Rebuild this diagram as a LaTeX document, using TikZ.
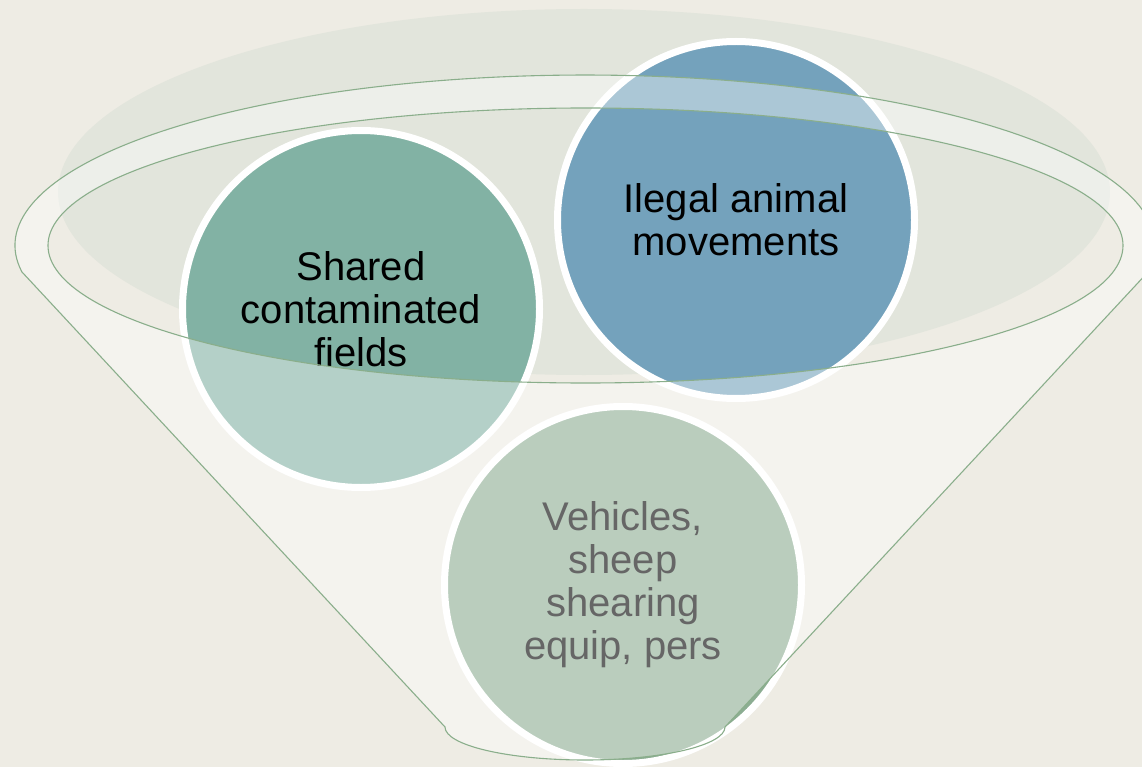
\documentclass[tikz,border=0pt]{standalone}
\usepackage{fontspec}
\setmainfont{Liberation Sans}
\usepackage{tikz}
\usetikzlibrary{positioning}
\definecolor{bgcol}{HTML}{EEECE4}
\definecolor{mouthcol}{HTML}{E2E5DC}
\definecolor{rimline}{HTML}{8AAE8B}
\definecolor{tealcol}{HTML}{82B2A4}
\definecolor{bluecol}{HTML}{74A2BC}
\definecolor{sagecol}{HTML}{8CAD92}
\tikzset{
  bubble/.style={circle, draw=white, line width=7pt, minimum size=357pt,
    inner sep=0pt, align=center, text=black,
    font=\fontsize{40}{43}\selectfont},
  funnel/.style={draw=rimline, line width=1.1pt, fill=white,
    fill opacity=0.4, even odd rule}
}

\begin{document}
\begin{tikzpicture}[x=1pt,y=-1pt]

% Background
\fill[bgcol] (0,0) rectangle (1142,767);
\useasboundingbox (0,0) rectangle (1142,767);
\clip (0,0) rectangle (1142,767);

% Back of the funnel mouth
\fill[mouthcol] (584,192) ellipse[x radius=526, y radius=183];

% Circles
\node[bubble, fill=tealcol] (fields) at (361,309) {Shared\\contaminated\\fields};
\node[bubble, fill=bluecol] (moves) at (736,220) {Ilegal animal\\movements};
\node[bubble, fill=sagecol] (gear) at (623,585) {Vehicles,\\sheep\\shearing\\equip, pers};

% Funnel body with rim, over the circles
\path[funnel] (21.9,271.9)
    arc[start angle=171.1, end angle=368.9, x radius=570, y radius=170.5]
    -- (725,727)
    arc[start angle=0, end angle=180, x radius=140, y radius=33]
    -- cycle
  (585.5,245.5) ellipse[x radius=537.5, y radius=137.5];

\end{tikzpicture}
\end{document}
